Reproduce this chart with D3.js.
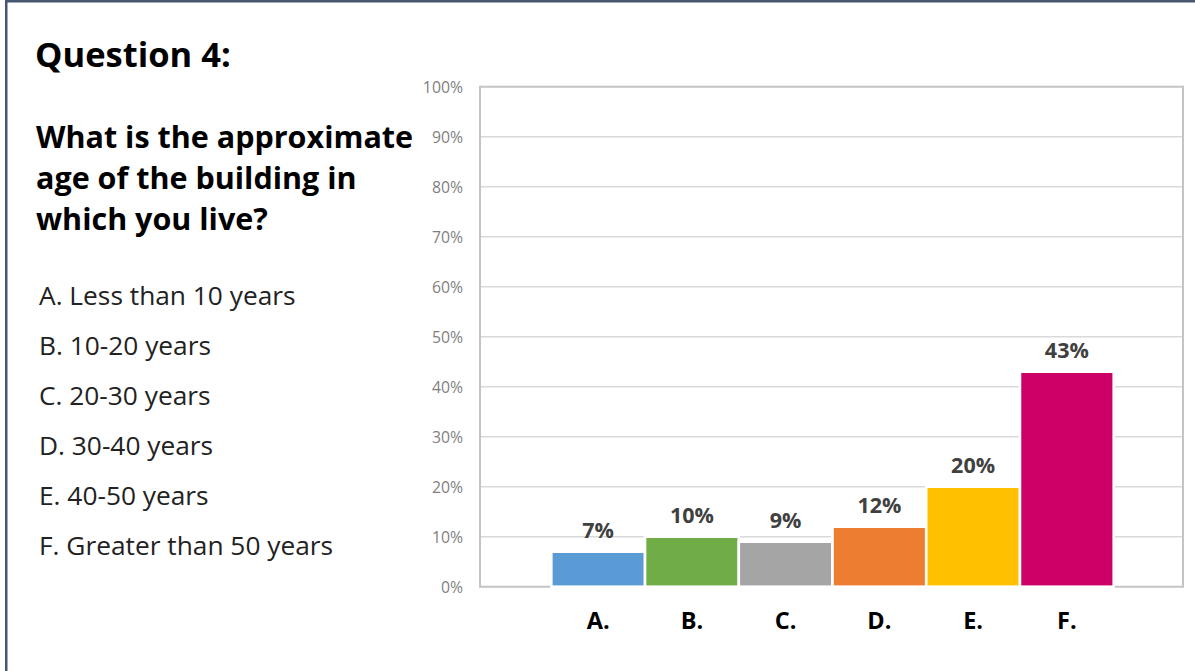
<!DOCTYPE html>
<html>
<head>
<meta charset="utf-8">
<script src="https://cdn.jsdelivr.net/npm/d3@7"></script>
<style>
  html, body { margin: 0; padding: 0; background: #ffffff; }
  svg { display: block; }
  text { font-family: "Open Sans", Lato, "DejaVu Sans", sans-serif; }
</style>
</head>
<body>
<svg id="chart" width="1195" height="671"></svg>
<script>
// Survey answers: share of respondents per building-age bracket
const categories = ["A.", "B.", "C.", "D.", "E.", "F."];
const values = [0.07, 0.10, 0.09, 0.12, 0.20, 0.43];
const barColors = ["#5b9bd5", "#70ad47", "#a5a5a5", "#ed7d31", "#ffc000", "#cc0066"];
const yTicks = [0, 0.1, 0.2, 0.3, 0.4, 0.5, 0.6, 0.7, 0.8, 0.9, 1.0];
const titleText = "Question 4:";
const questionLines = ["What is the approximate", "age of the building in", "which you live?"];
const answerOptions = [
  "A. Less than 10 years",
  "B. 10-20 years",
  "C. 20-30 years",
  "D. 30-40 years",
  "E. 40-50 years",
  "F. Greater than 50 years"
];

const svg = d3.select("#chart");
const W = 1195, H = 671;

svg.append("rect").attr("width", W).attr("height", H).attr("fill", "#ffffff");

// slide frame (top and left edges)
svg.append("rect").attr("x", 5).attr("y", 0).attr("width", W - 5).attr("height", 2.5).attr("fill", "#475670");
svg.append("rect").attr("x", 5).attr("y", 0).attr("width", 2.5).attr("height", H).attr("fill", "#475670");

// ---- text block on the left ----
svg.append("text")
  .attr("x", 35).attr("y", 66.5)
  .attr("font-size", 34.5).attr("font-weight", 700).attr("fill", "#000")
  .text(titleText);

svg.append("g").selectAll("text")
  .data(questionLines)
  .join("text")
  .attr("x", 36)
  .attr("y", (d, i) => 148 + i * 41)
  .attr("font-size", 30.5).attr("font-weight", 700).attr("fill", "#000")
  .text(d => d);

svg.append("g").selectAll("text")
  .data(answerOptions)
  .join("text")
  .attr("x", 39)
  .attr("y", (d, i) => 305 + i * 50)
  .attr("font-size", 26.3).attr("font-weight", 400).attr("fill", "#222")
  .text(d => d);

// ---- bar chart ----
const plot = { left: 480, right: 1183, top: 86.7, bottom: 586.7 };

const y = d3.scaleLinear().domain([0, 1]).range([plot.bottom, plot.top]);
const x = d3.scaleBand().domain(categories).range([551.3, 1113.7]).paddingInner(0).paddingOuter(0);

// horizontal gridlines
svg.append("g").selectAll("line")
  .data(yTicks.filter(t => t > 0 && t < 1))
  .join("line")
  .attr("x1", plot.left).attr("x2", plot.right)
  .attr("y1", d => y(d)).attr("y2", d => y(d))
  .attr("stroke", "#d9d9d9").attr("stroke-width", 1.6);

// plot frame: top, left, right, baseline
const frame = svg.append("g").attr("stroke", "#c4c4c4").attr("stroke-width", 2).attr("fill", "none");
frame.append("line").attr("x1", plot.left).attr("x2", plot.right).attr("y1", y(1)).attr("y2", y(1));
frame.append("line").attr("x1", plot.left).attr("x2", plot.left).attr("y1", y(1) - 1).attr("y2", y(0) + 1);
frame.append("line").attr("x1", plot.right).attr("x2", plot.right).attr("y1", y(1) - 1).attr("y2", y(0) + 1);
frame.append("line").attr("x1", plot.left).attr("x2", plot.right).attr("y1", y(0)).attr("y2", y(0));

// y axis tick labels
const yAxis = d3.axisLeft(y).tickValues(yTicks).tickFormat(d3.format(".0%")).tickSize(0).tickPadding(0);
const yAxisG = svg.append("g").attr("transform", `translate(${463},0)`).call(yAxis);
yAxisG.select(".domain").remove();
yAxisG.selectAll("text")
  .attr("font-size", 15.8).attr("fill", "#7f7f7f")
  .attr("font-family", "'Open Sans', Lato, sans-serif")
  .attr("dy", "0.35em");

// bars
svg.append("g").selectAll("rect")
  .data(values)
  .join("rect")
  .attr("x", (d, i) => x(categories[i]))
  .attr("width", x.bandwidth())
  .attr("y", d => y(d))
  .attr("height", d => y(0) - y(d))
  .attr("fill", (d, i) => barColors[i])
  .attr("stroke", "#ffffff").attr("stroke-width", 2.6);

// value labels
svg.append("g").selectAll("text")
  .data(values)
  .join("text")
  .attr("x", (d, i) => x(categories[i]) + x.bandwidth() / 2)
  .attr("y", d => y(d) - 14)
  .attr("text-anchor", "middle")
  .attr("font-size", 21.5).attr("font-weight", 700).attr("fill", "#404040")
  .text(d => d3.format(".0%")(d));

// category axis labels
const xAxis = d3.axisBottom(x).tickSize(0).tickPadding(0);
const xAxisG = svg.append("g").attr("transform", `translate(0,${629})`).call(xAxis);
xAxisG.select(".domain").remove();
xAxisG.selectAll("text")
  .attr("y", 0).attr("dy", 0)
  .attr("font-size", 23.5).attr("font-weight", 700).attr("fill", "#000")
  .attr("font-family", "'Open Sans', Lato, sans-serif");
</script>
</body>
</html>
